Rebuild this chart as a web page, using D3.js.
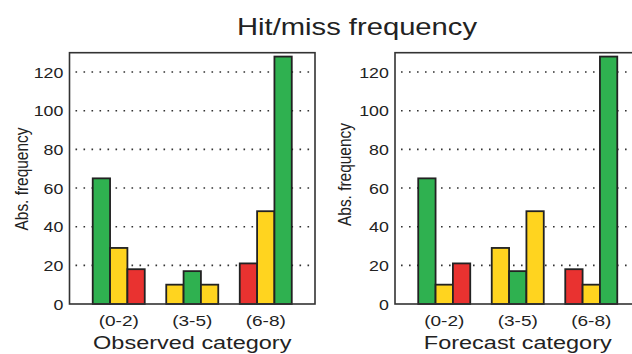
<!DOCTYPE html>
<html><head><meta charset="utf-8">
<script src="https://cdn.jsdelivr.net/npm/d3@7"></script>
<style>
html,body{margin:0;padding:0;background:#fff;}
svg{display:block;font-family:"Liberation Sans",Arial,Helvetica,sans-serif;}
</style></head>
<body><svg id="c" width="632" height="354"></svg>
<script>
const title = "Hit/miss frequency";
const categories = ["(0-2)", "(3-5)", "(6-8)"];
const yTicks = [0, 20, 40, 60, 80, 100, 120];
const gridTicks = [20, 40, 60, 80, 100, 120];
const yLabel = "Abs. frequency";
const leftXLabel = "Observed category";
const rightXLabel = "Forecast category";
// counts per group (group = observed category on left, forecast category on right)
const observedValues = [[65, 29, 18], [10, 17, 10], [21, 48, 128]];
const forecastValues = [[65, 10, 21], [29, 17, 48], [18, 10, 128]];
const distanceColors = ["#2fb150", "#ffd41f", "#e93230"];

const svg = d3.select("#c");
const SX = 1.27;
const ink = "#222";

function panel(x0, x1, values, xLabel, yLabX, yLabY) {
  const top = 52.7, bottom = 304;
  const y = d3.scaleLinear().domain([0, 130]).range([bottom, top]);
  const x = d3.scaleBand().domain(categories).range([x0, x1]).paddingInner(0.2925).paddingOuter(0.316);
  const xi = d3.scaleBand().domain([0, 1, 2]).range([0, x.bandwidth()]);
  const g = svg.append("g");

  // dotted grid
  g.selectAll("line.grid").data(gridTicks).join("line")
    .attr("x1", x0 + 6).attr("x2", x1 - 2)
    .attr("y1", d => y(d)).attr("y2", d => y(d))
    .attr("stroke", "#333").attr("stroke-width", 1.6)
    .attr("stroke-dasharray", "1.6 6.4");

  // bars
  const grp = g.selectAll("g.grp").data(values).join("g")
    .attr("transform", (d, i) => `translate(${x(categories[i])},0)`);
  grp.each(function (row, gi) {
    d3.select(this).selectAll("rect").data(row).join("rect")
      .attr("x", (d, j) => xi(j))
      .attr("width", xi.bandwidth())
      .attr("y", d => y(d))
      .attr("height", d => y(0) - y(d))
      .attr("fill", (d, j) => distanceColors[Math.abs(gi - j)])
      .attr("stroke", ink).attr("stroke-width", 1.8);
  });

  // frame
  g.append("rect").attr("x", x0).attr("y", top).attr("width", x1 - x0).attr("height", bottom - top)
    .attr("fill", "none").attr("stroke", "#333").attr("stroke-width", 1.6);

  // y axis
  const ya = g.append("g").attr("transform", `translate(${x0},0)`)
    .call(d3.axisLeft(y).tickValues(yTicks).tickSize(0).tickPadding(0));
  ya.select(".domain").remove();
  ya.selectAll("text").attr("x", -6.2 / SX).attr("dy", "0.36em")
    .attr("transform", `scale(${SX},1)`)
    .attr("font-size", 14).attr("fill", ink).attr("font-family", null);

  // x axis labels
  const xa = g.append("g").attr("transform", `translate(0,${bottom})`)
    .call(d3.axisBottom(x).tickSize(0).tickPadding(0));
  xa.select(".domain").remove();
  xa.selectAll("text").attr("y", 0).attr("dy", 0)
    .attr("transform", `translate(0,22) scale(${SX},1)`)
    .attr("font-size", 15).attr("fill", ink).attr("font-family", null);

  // axis titles
  g.append("text").attr("transform", `translate(${(x0 + x1) / 2},349) scale(${SX},1)`)
    .attr("text-anchor", "middle").attr("font-size", 18.5).attr("fill", ink).text(xLabel);
  g.append("text").attr("transform", `translate(${yLabX},${yLabY}) rotate(-90) scale(1.03,${SX})`)
    .attr("text-anchor", "middle").attr("font-size", 15).attr("fill", ink).text(yLabel);
}

panel(69.5, 315, observedValues, leftXLabel, 28, 179);
panel(395, 640.5, forecastValues, rightXLabel, 351, 174.5);

svg.append("text").attr("transform", `translate(357,35) scale(${SX},1)`)
  .attr("text-anchor", "middle").attr("font-size", 23).attr("fill", ink).text(title);
</script></body></html>
